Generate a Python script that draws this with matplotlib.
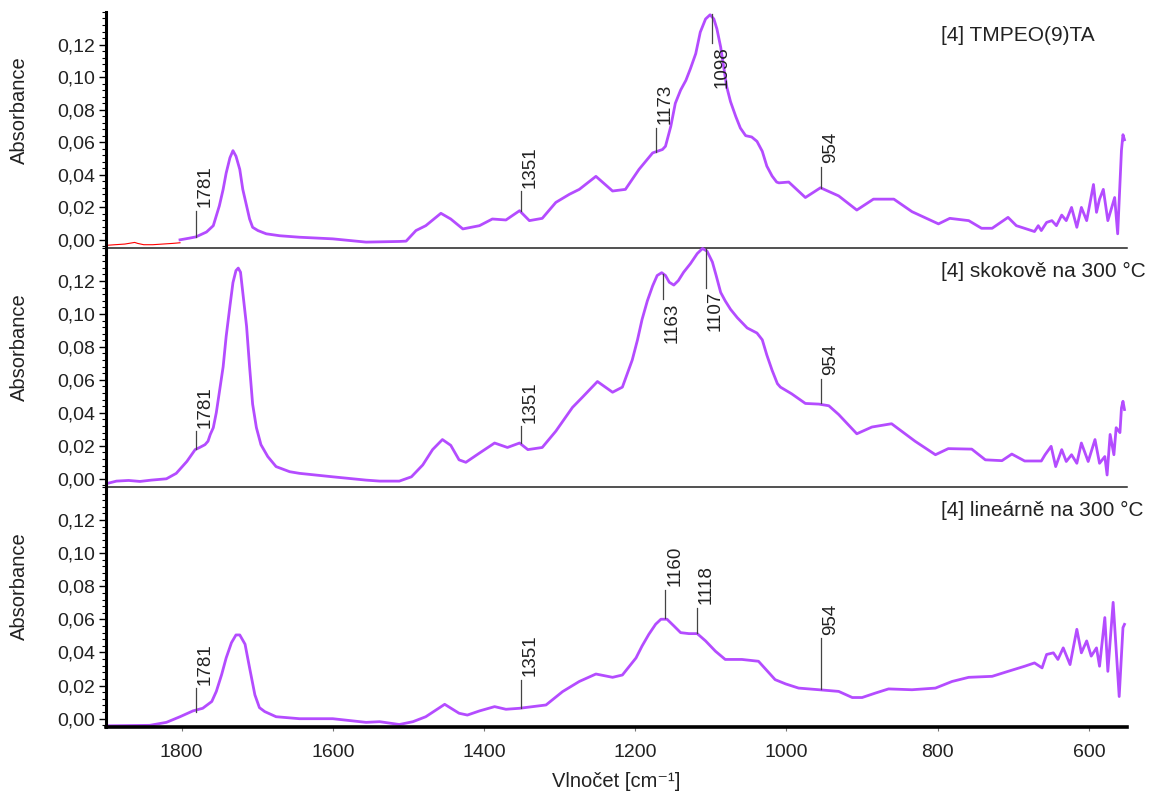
import matplotlib
matplotlib.use('Agg')
import matplotlib.pyplot as plt
from matplotlib.ticker import MultipleLocator, FuncFormatter

plt.rcParams['font.family'] = ['Liberation Sans', 'DejaVu Sans']

# --- data (wavenumber cm-1, absorbance) ---
# [4] TMPEO(9)TA, noisy start drawn in red
wn_red = [1900, 1888, 1875, 1862, 1858, 1850, 1838, 1825, 1812, 1802]
ab_red = [-0.0034, -0.0030, -0.0026, -0.0016, -0.0022, -0.0030, -0.0030, -0.0026, -0.0022, -0.0018]

wn_a = [1802, 1790, 1781, 1767, 1758, 1754, 1750, 1745, 1741, 1736, 1732, 1728, 1723, 1719,
        1714, 1710, 1706, 1699, 1688, 1670, 1644, 1600, 1556, 1512, 1503, 1490, 1477, 1457,
        1444, 1428, 1406, 1389, 1371, 1353, 1340, 1323, 1305, 1287, 1274, 1252, 1230, 1213,
        1195, 1177, 1164, 1160, 1153, 1147, 1140, 1133, 1127, 1120, 1114, 1107, 1101, 1096,
        1092, 1087, 1083, 1079, 1074, 1067, 1061, 1054, 1046, 1039, 1032, 1026, 1019, 1013,
        1010, 997, 975, 955, 931, 907, 885, 858, 834, 799, 784, 759, 742, 728, 707, 696, 672,
        667, 663, 656, 649, 643, 636, 630, 623, 616, 610, 603, 594, 590, 586, 581, 575, 566,
        562, 557, 555, 553]
ab_a = [0.0000, 0.0010, 0.0018, 0.0048, 0.0087, 0.0148, 0.0209, 0.0310, 0.0410, 0.0504,
        0.0548, 0.0514, 0.0433, 0.0310, 0.0209, 0.0128, 0.0077, 0.0057, 0.0037, 0.0025,
        0.0016, 0.0006, -0.0014, -0.0010, -0.0008, 0.0057, 0.0087, 0.0163, 0.0128, 0.0067,
        0.0087, 0.0128, 0.0122, 0.0179, 0.0118, 0.0132, 0.0230, 0.0280, 0.0310, 0.0390,
        0.0300, 0.0310, 0.0433, 0.0534, 0.0555, 0.0575, 0.0697, 0.0839, 0.0920, 0.0980,
        0.1052, 0.1144, 0.1276, 0.1357, 0.1383, 0.1357, 0.1296, 0.1184, 0.1062, 0.0940,
        0.0849, 0.0757, 0.0687, 0.0640, 0.0632, 0.0605, 0.0544, 0.0453, 0.0392, 0.0355,
        0.0350, 0.0355, 0.0260, 0.0320, 0.0270, 0.0183, 0.0250, 0.0250, 0.0173, 0.0098,
        0.0132, 0.0118, 0.0071, 0.0071, 0.0138, 0.0087, 0.0051, 0.0087, 0.0057, 0.0107,
        0.0118, 0.0087, 0.0152, 0.0118, 0.0199, 0.0077, 0.0199, 0.0118, 0.0340, 0.0169,
        0.0250, 0.0310, 0.0118, 0.0260, 0.0037, 0.0550, 0.0646, 0.0615]

# [4] skokově na 300 °C
wn_b = [1899, 1886, 1870, 1855, 1840, 1820, 1807, 1793, 1782, 1776, 1769, 1765, 1762, 1758,
        1754, 1750, 1745, 1741, 1736, 1732, 1728, 1725, 1722, 1719, 1714, 1710, 1706, 1701,
        1695, 1686, 1675, 1657, 1644, 1600, 1556, 1538, 1512, 1496, 1481, 1468, 1455, 1444,
        1433, 1424, 1406, 1386, 1369, 1353, 1342, 1323, 1305, 1283, 1270, 1250, 1230, 1217,
        1204, 1197, 1191, 1184, 1177, 1171, 1165, 1160, 1155, 1149, 1143, 1136, 1127, 1118,
        1111, 1105, 1098, 1093, 1087, 1081, 1074, 1065, 1052, 1039, 1032, 1026, 1019, 1012,
        1008, 993, 975, 957, 944, 931, 907, 887, 861, 830, 803, 786, 755, 737, 715, 702, 685,
        663, 658, 650, 644, 636, 630, 623, 616, 610, 601, 592, 586, 579, 576, 572, 567, 564,
        559, 557, 555, 553]
ab_b = [-0.0029, -0.0014, -0.0010, -0.0016, -0.0008, 0.0000, 0.0033, 0.0105, 0.0177, 0.0190,
        0.0207, 0.0228, 0.0269, 0.0310, 0.0402, 0.0525, 0.0679, 0.0863, 0.1048, 0.1190,
        0.1263, 0.1278, 0.1253, 0.1130, 0.0925, 0.0679, 0.0453, 0.0310, 0.0207, 0.0135,
        0.0074, 0.0043, 0.0033, 0.0012, -0.0008, -0.0014, -0.0014, 0.0012, 0.0084, 0.0177,
        0.0238, 0.0203, 0.0115, 0.0100, 0.0156, 0.0217, 0.0190, 0.0217, 0.0177, 0.0190,
        0.0289, 0.0433, 0.0494, 0.0590, 0.0525, 0.0556, 0.0720, 0.0843, 0.0966, 0.1079,
        0.1170, 0.1233, 0.1250, 0.1233, 0.1192, 0.1175, 0.1202, 0.1253, 0.1305, 0.1366,
        0.1397, 0.1380, 0.1315, 0.1233, 0.1130, 0.1079, 0.1028, 0.0977, 0.0915, 0.0884,
        0.0843, 0.0751, 0.0658, 0.0577, 0.0556, 0.0515, 0.0457, 0.0453, 0.0443, 0.0390,
        0.0273, 0.0314, 0.0334, 0.0228, 0.0146, 0.0183, 0.0180, 0.0115, 0.0110, 0.0150,
        0.0108, 0.0108, 0.0146, 0.0197, 0.0074, 0.0177, 0.0105, 0.0146, 0.0094, 0.0217,
        0.0105, 0.0238, 0.0094, 0.0135, 0.0023, 0.0269, 0.0146, 0.0310, 0.0280, 0.0430,
        0.0470, 0.0420]

# [4] lineárně na 300 °C
wn_c = [1899, 1842, 1820, 1802, 1785, 1772, 1760, 1754, 1747, 1741, 1734, 1728, 1723, 1716,
        1710, 1703, 1697, 1690, 1675, 1644, 1600, 1556, 1538, 1512, 1494, 1477, 1452, 1433,
        1422, 1406, 1386, 1371, 1353, 1318, 1296, 1274, 1252, 1230, 1217, 1199, 1191, 1182,
        1173, 1166, 1158, 1149, 1140, 1129, 1118, 1107, 1094, 1081, 1059, 1037, 1015, 1001,
        984, 957, 931, 913, 900, 883, 865, 834, 803, 781, 759, 728, 707, 685, 672, 662, 656,
        647, 641, 634, 625, 616, 610, 603, 597, 590, 586, 579, 575, 568, 560, 555, 553]
ab_c = [-0.0043, -0.0040, -0.0022, 0.0012, 0.0047, 0.0063, 0.0104, 0.0165, 0.0266, 0.0367,
        0.0459, 0.0506, 0.0506, 0.0450, 0.0307, 0.0144, 0.0067, 0.0043, 0.0012, 0.0000,
        0.0000, -0.0022, -0.0018, -0.0035, -0.0018, 0.0012, 0.0087, 0.0033, 0.0022, 0.0047,
        0.0073, 0.0057, 0.0063, 0.0083, 0.0164, 0.0225, 0.0270, 0.0250, 0.0264, 0.0367,
        0.0439, 0.0510, 0.0571, 0.0601, 0.0601, 0.0561, 0.0520, 0.0514, 0.0514, 0.0470,
        0.0408, 0.0358, 0.0358, 0.0347, 0.0236, 0.0210, 0.0185, 0.0175, 0.0165, 0.0128,
        0.0128, 0.0154, 0.0180, 0.0175, 0.0185, 0.0225, 0.0250, 0.0256, 0.0286, 0.0317,
        0.0337, 0.0307, 0.0388, 0.0398, 0.0358, 0.0428, 0.0327, 0.0540, 0.0398, 0.0470,
        0.0378, 0.0428, 0.0317, 0.0611, 0.0286, 0.0703, 0.0134, 0.0550, 0.0570]

titles = ['[4] TMPEO(9)TA', '[4] skokově na 300 °C', '[4] lineárně na 300 °C']

# peak marks: (wavenumber, start of line, end of line)
peaks_a = [(1781, 0.0018, 0.018), (1351, 0.018, 0.030), (1173, 0.054, 0.069),
           (1098, 0.1385, 0.121), (954, 0.032, 0.045)]
peaks_b = [(1781, 0.018, 0.029), (1351, 0.0217, 0.032), (1163, 0.1243, 0.109),
           (1107, 0.1397, 0.116), (954, 0.0457, 0.0607)]
peaks_c = [(1781, 0.0043, 0.0185), (1351, 0.0063, 0.0236), (1160, 0.061, 0.078),
           (1118, 0.052, 0.067), (954, 0.018, 0.0486)]

purple = '#b44cff'
txt = '#222222'

fig = plt.figure(figsize=(11.64, 7.94), dpi=100)
left, width = 0.091, 0.877
boxes = [(0.6877, 0.2972), (0.3866, 0.3011), (0.0844, 0.3023)]
series = [(wn_a, ab_a, peaks_a), (wn_b, ab_b, peaks_b), (wn_c, ab_c, peaks_c)]

for i, ((bot, h), (wn, ab, peaks)) in enumerate(zip(boxes, series)):
    ax = fig.add_axes([left, bot, width, h])
    ax.set_facecolor('none')
    if i == 0:
        ax.plot(wn_red, ab_red, color='red', lw=0.8)
    ax.plot(wn, ab, color=purple, lw=2.0, solid_joinstyle='round', clip_on=False)
    ax.set_xlim(1900, 550)
    ax.set_ylim(-0.005, 0.14)

    for x, y0, y1 in peaks:
        ax.plot([x, x], [y0, y1], color='#444444', lw=0.9)
        if y1 > y0:
            ax.text(x - 1, y1 + 0.002, str(x), rotation=90, ha='left', va='bottom',
                    fontsize=13.5, color=txt)
        else:
            ax.text(x - 1, y1 - 0.002, str(x), rotation=90, ha='left', va='top',
                    fontsize=13.5, color=txt)

    ax.text(795, 0.1255, titles[i], ha='left', va='center', fontsize=15, color=txt)

    ax.spines['top'].set_visible(False)
    ax.spines['right'].set_visible(False)
    ax.spines['left'].set_linewidth(2.2)
    ax.set_yticks([0, 0.02, 0.04, 0.06, 0.08, 0.10, 0.12])
    ax.yaxis.set_minor_locator(MultipleLocator(0.004))
    ax.yaxis.set_major_formatter(FuncFormatter(lambda v, p: f'{v:.2f}'.replace('.', ',')))
    ax.tick_params(axis='y', which='major', length=5, width=1, pad=3,
                   labelsize=14, labelcolor=txt)
    ax.tick_params(axis='y', which='minor', length=3, width=0.8)
    ax.set_ylabel('Absorbance', fontsize=14.5, color=txt)
    ax.yaxis.set_label_coords(-0.075, 0.585)

    ax.set_xticks([1800, 1600, 1400, 1200, 1000, 800, 600])
    if i < 2:
        ax.spines['bottom'].set_linewidth(1.1)
        ax.spines['bottom'].set_color('#222222')
        ax.tick_params(axis='x', bottom=False, labelbottom=False)
    else:
        ax.spines['bottom'].set_linewidth(2.6)
        ax.tick_params(axis='x', length=3, width=0.8, color='#777777', pad=9,
                       labelsize=14, labelcolor=txt)
        ax.set_xlabel('Vlnočet [cm⁻¹]', fontsize=14.5, color=txt, labelpad=8)

fig.savefig('out.png', dpi=100)
